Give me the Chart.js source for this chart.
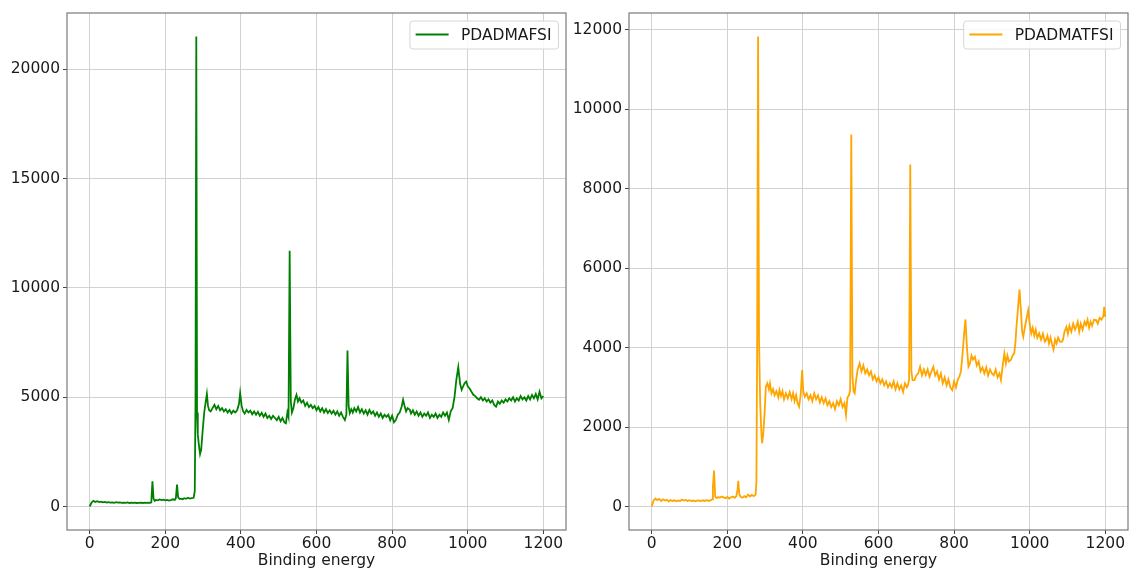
<!DOCTYPE html>
<html>
<head>
<meta charset="utf-8">
<script src="https://cdn.jsdelivr.net/npm/chart.js@4.4.1/dist/chart.umd.min.js"></script>
<style>
  html, body { margin: 0; padding: 0; background: #ffffff; }
  #wrap { position: relative; width: 1129px; height: 570px; overflow: hidden; }
  canvas { position: absolute; top: 0; }
  #cA { left: 0px; }
  #cB { left: 565px; }
</style>
</head>
<body>
<div id="wrap">
  <canvas id="cA" width="570" height="570"></canvas>
  <canvas id="cB" width="564" height="570"></canvas>
</div>
<script>
// ---------- DATA ----------
const labelA = "PDADMAFSI";
const labelB = "PDADMATFSI";
const xTickValues = [0, 200, 400, 600, 800, 1000, 1200];
const yTickValuesA = [0, 5000, 10000, 15000, 20000];
const yTickValuesB = [0, 2000, 4000, 6000, 8000, 10000, 12000];
const xAxisTitle = "Binding energy";

const energyA = [
  0,5,10,15,20,25,30,35,40,45,
  50,55,60,65,70,75,80,85,90,95,
  100,105,110,115,120,125,130,135,140,145,
  150,155,160,163,166,169,172,175,180,185,
  190,195,200,205,210,215,220,225,228,231,
  234,238,242,246,250,255,260,265,270,275,
  278,280,282,284,286,289,292,295,299,303,
  307,310,313,316,320,325,330,335,340,345,
  350,355,360,365,370,375,380,385,390,395,
  398,402,406,410,415,420,425,430,435,440,
  445,450,455,460,465,470,475,480,485,490,
  495,500,505,510,515,519,523,526,529,532,
  535,539,543,547,551,555,560,565,570,575,
  580,585,590,595,600,605,610,615,620,625,
  630,635,640,645,650,655,660,665,670,675,
  679,682,685,688,692,696,700,705,710,715,
  720,725,730,735,740,745,750,755,760,765,
  770,775,780,785,790,795,800,805,810,815,
  820,825,829,833,837,841,847,850,855,860,
  865,870,875,880,885,890,895,900,905,910,
  915,920,925,930,935,940,945,950,955,960,
  965,970,975,980,984,988,992,996,1000,1005,
  1010,1015,1020,1025,1030,1035,1040,1045,1050,1055,
  1060,1065,1070,1075,1080,1085,1090,1095,1100,1105,
  1110,1115,1120,1125,1130,1135,1140,1145,1150,1155,
  1160,1165,1170,1175,1180,1185,1190,1195,1200
];
const countsA = [
  0,180,260,210,240,200,220,190,210,180,
  200,175,190,170,195,175,185,165,180,170,
  190,160,175,165,180,160,170,175,160,180,
  165,175,170,190,1150,350,260,300,280,320,
  290,310,280,300,270,290,330,300,380,1000,
  420,340,360,330,380,350,400,360,380,400,
  700,5000,21500,4300,3300,2800,2400,2600,3500,4300,
  4800,5150,4600,4400,4350,4500,4650,4450,4600,4400,
  4500,4350,4450,4300,4420,4250,4380,4300,4400,4700,
  5190,4600,4350,4250,4420,4300,4380,4220,4350,4200,
  4330,4150,4280,4100,4250,4050,4150,4000,4150,4050,
  3950,4100,3900,4050,3850,3810,4300,4100,11700,4800,
  4300,4500,4900,5110,4800,4950,4750,4850,4600,4750,
  4550,4650,4500,4600,4400,4550,4350,4500,4300,4450,
  4280,4400,4250,4380,4200,4350,4150,4300,4100,3960,
  4200,7130,4600,4270,4450,4300,4500,4350,4550,4300,
  4450,4250,4400,4200,4420,4250,4350,4150,4300,4100,
  4250,4050,4200,4100,4200,3950,4150,3850,3960,4200,
  4300,4550,4880,4600,4350,4500,4420,4250,4400,4200,
  4350,4150,4300,4100,4250,4150,4300,4050,4200,4100,
  4250,4050,4200,4100,4300,4150,4300,3960,4350,4500,
  5000,5800,6370,5600,5340,5500,5650,5716,5500,5400,
  5250,5110,5050,4950,4880,5000,4850,4950,4800,4900,
  4750,4850,4650,4570,4800,4700,4850,4750,4900,4800,
  4950,4850,5000,4800,4950,4850,5050,4900,5000,4850,
  5050,4900,5100,4950,5150,4900,5250,4950,5050
];

const energyB = [
  0,5,10,15,20,25,30,35,40,45,
  50,55,60,65,70,75,80,85,90,95,
  100,105,110,115,120,125,130,135,140,145,
  150,155,160,162,165,168,172,176,180,185,
  190,195,200,205,210,215,220,224,227,229,
  232,236,240,245,250,255,260,265,270,275,
  277,279,281.5,284,287,290,292,295,299,302,
  306,310,313,317,321,325,330,335,338,342,
  346,350,355,360,365,370,374,378,382,386,
  390,394,398,401,405,410,415,420,425,430,
  435,440,445,450,455,460,465,470,475,480,
  485,490,495,500,505,510,514,518,522,525,
  528,531,534,537,541,545,550,555,560,565,
  570,575,580,585,590,595,600,605,610,615,
  620,625,630,635,640,645,650,655,660,665,
  670,675,678,681,684,687,690,695,700,705,
  710,715,720,725,730,735,740,745,750,755,
  760,765,770,775,780,785,790,795,800,805,
  810,814,818,822,826,830,834,838,842,846,
  850,855,860,865,870,875,880,885,890,895,
  900,905,910,915,920,924,928,933,937,941,
  945,950,955,959,962,965,969,973,977,980,
  983,987,991,996,1000,1004,1008,1012,1016,1020,
  1025,1030,1035,1040,1043,1047,1051,1055,1060,1063,
  1067,1071,1075,1080,1085,1088,1092,1097,1101,1105,
  1110,1115,1120,1123,1127,1131,1135,1140,1145,1149,
  1153,1157,1161,1165,1170,1176,1180,1185,1190,1195,
  1197,1200
];
const countsB = [
  0,150,200,160,190,140,180,150,170,130,
  160,140,155,130,150,140,175,150,165,140,
  160,135,150,130,145,150,135,155,140,160,
  145,150,180,500,905,250,210,240,220,250,
  230,210,240,200,230,250,220,260,420,645,
  300,240,220,260,230,300,250,290,260,300,
  600,4000,11830,4200,2600,1900,1590,1800,2400,3015,
  3100,2950,3100,2850,2950,2800,2900,2750,2930,2780,
  2900,2700,2850,2720,2880,2700,2850,2650,2800,2600,
  2513,2800,3435,2900,2765,2850,2700,2800,2650,2850,
  2700,2800,2620,2750,2600,2720,2550,2650,2500,2600,
  2450,2650,2550,2700,2500,2600,2304,2750,2800,2930,
  9364,3300,2900,2850,3200,3450,3600,3400,3550,3350,
  3450,3300,3400,3200,3300,3150,3250,3100,3200,3050,
  3150,3000,3100,3000,3150,2950,3100,2950,3050,2880,
  3100,3000,3060,3200,8606,3400,3180,3183,3300,3350,
  3518,3300,3450,3309,3450,3266,3400,3518,3300,3400,
  3200,3350,3100,3250,3050,3200,3000,2930,3150,3000,
  3200,3266,3400,3800,4300,4708,4000,3518,3600,3800,
  3700,3769,3550,3650,3400,3500,3350,3500,3300,3450,
  3350,3300,3450,3250,3350,3183,3500,3854,3600,3800,
  3650,3686,3800,3854,4100,4523,5000,5462,4900,4400,
  4271,4500,4700,4942,4600,4357,4500,4300,4450,4250,
  4357,4200,4350,4150,4188,4300,4100,4250,4050,3950,
  4200,4100,4250,4150,4146,4200,4400,4523,4350,4550,
  4400,4600,4450,4523,4650,4400,4600,4450,4650,4565,
  4700,4500,4650,4550,4700,4690,4600,4750,4700,4800,
  5025,4775
];

// ---------- DRAWING ----------
const FONT = "'DejaVu Sans', 'Liberation Sans', sans-serif";
const TEXT = '#1a1a1a';
const GRID = '#d2d2d2';

const framePlugin = {
  id: 'frameLegend',
  afterDraw(chart, args, opts) {
    const {ctx, chartArea: a} = chart;
    ctx.save();
    ctx.strokeStyle = '#7a7a7a';
    ctx.lineWidth = 1.2;
    ctx.strokeRect(a.left, a.top, a.right - a.left, a.bottom - a.top);
    const ds = chart.data.datasets[0];
    ctx.font = "15.5px " + FONT;
    const tw = ctx.measureText(ds.label).width;
    const lineLen = 33, gap1 = 5.7, gap2 = 12.3, padR = 7;
    const w = gap1 + lineLen + gap2 + tw + padR;
    const h = 28;
    const right = a.right - 7.5;
    const left = right - w;
    const top = a.top + 8;
    ctx.beginPath();
    if (ctx.roundRect) ctx.roundRect(left, top, w, h, 3); else ctx.rect(left, top, w, h);
    ctx.fillStyle = 'rgba(255,255,255,0.85)';
    ctx.fill();
    ctx.strokeStyle = '#d6d6d6';
    ctx.lineWidth = 1;
    ctx.stroke();
    ctx.beginPath();
    ctx.moveTo(left + gap1, top + 13.5);
    ctx.lineTo(left + gap1 + lineLen, top + 13.5);
    ctx.strokeStyle = ds.borderColor;
    ctx.lineWidth = 1.8;
    ctx.stroke();
    ctx.fillStyle = TEXT;
    ctx.textBaseline = 'middle';
    ctx.textAlign = 'left';
    ctx.fillText(ds.label, left + gap1 + lineLen + gap2, top + 14.5);
    ctx.restore();
  }
};

function makeChart(canvasId, label, energy, counts, color, yMin, yMax, yTicks, yAxisWidth, padRight) {
  const points = energy.map((e, i) => ({x: e, y: counts[i]}));
  return new Chart(document.getElementById(canvasId), {
    type: 'line',
    data: {
      datasets: [{
        label: label,
        data: points,
        borderColor: color,
        backgroundColor: color,
        borderWidth: 1.8,
        pointRadius: 0,
        tension: 0,
        fill: false
      }]
    },
    options: {
      responsive: false,
      animation: false,
      devicePixelRatio: 1,
      layout: { padding: { top: 13, right: padRight, bottom: 0, left: 0 } },
      plugins: { legend: { display: false }, tooltip: { enabled: false } },
      scales: {
        x: {
          type: 'linear',
          min: -60, max: 1260,
          afterBuildTicks: s => { s.ticks = xTickValues.map(v => ({value: v})); },
          afterFit: s => { s.height = 40; },
          grid: { color: GRID, lineWidth: 1, tickLength: 4, tickColor: '#444' },
          border: { display: false },
          ticks: { color: TEXT, font: { family: FONT, size: 15.5 }, padding: 1, maxRotation: 0,
                   callback: v => String(v) },
          title: { display: true, text: xAxisTitle, color: TEXT,
                   font: { family: FONT, size: 15.5 }, padding: { top: 0, bottom: 0 } }
        },
        y: {
          type: 'linear',
          min: yMin, max: yMax,
          afterBuildTicks: s => { s.ticks = yTicks.map(v => ({value: v})); },
          afterFit: s => { s.width = yAxisWidth; },
          grid: { color: GRID, lineWidth: 1, tickLength: 4, tickColor: '#444' },
          border: { display: false },
          ticks: { color: TEXT, font: { family: FONT, size: 15.5 }, padding: 3,
                   callback: v => String(v) }
        }
      }
    },
    plugins: [framePlugin]
  });
}

makeChart('cA', labelA, energyA, countsA, '#008000', -1075, 22575, yTickValuesA, 67, 4);
makeChart('cB', labelB, energyB, countsB, '#FFA500', -592, 12422, yTickValuesB, 64, 1);
</script>
</body>
</html>
